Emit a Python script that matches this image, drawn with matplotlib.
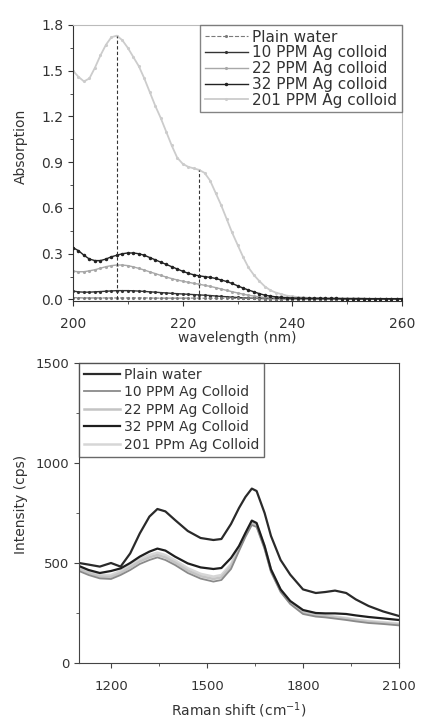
import matplotlib
matplotlib.use("Agg")
import matplotlib.pyplot as plt
from matplotlib.ticker import MultipleLocator

plt.rcParams['font.family'] = ['DejaVu Sans']

# ---------------- UV-Vis absorption data ----------------
wl = list(range(200, 261))
abs_201 = [1.50, 1.46, 1.43, 1.45, 1.52, 1.60, 1.67, 1.72, 1.73, 1.70,
           1.65, 1.59, 1.53, 1.45, 1.36, 1.27, 1.19, 1.10, 1.01, 0.93,
           0.89, 0.87, 0.86, 0.85, 0.83, 0.78, 0.70, 0.62, 0.53, 0.44,
           0.36, 0.28, 0.21, 0.16, 0.12, 0.085, 0.06, 0.045, 0.035, 0.025,
           0.02, 0.016, 0.013, 0.011, 0.010, 0.009, 0.009, 0.008, 0.008, 0.008,
           0.007, 0.007, 0.007, 0.006, 0.006, 0.006, 0.006, 0.005, 0.005, 0.005, 0.005]
abs_32 = [0.34, 0.32, 0.29, 0.265, 0.255, 0.255, 0.265, 0.28, 0.29, 0.30,
          0.305, 0.305, 0.30, 0.29, 0.275, 0.26, 0.245, 0.23, 0.215, 0.20,
          0.185, 0.172, 0.162, 0.155, 0.150, 0.145, 0.138, 0.128, 0.118, 0.105,
          0.09, 0.075, 0.062, 0.05, 0.038, 0.028, 0.022, 0.017, 0.014, 0.012,
          0.010, 0.009, 0.009, 0.008, 0.008, 0.008, 0.007, 0.007, 0.007, 0.006,
          0.006, 0.006, 0.006, 0.006, 0.005, 0.005, 0.005, 0.005, 0.005, 0.005, 0.005]
abs_22 = [0.185, 0.182, 0.182, 0.188, 0.195, 0.205, 0.215, 0.222, 0.226, 0.226,
          0.222, 0.214, 0.204, 0.193, 0.181, 0.17, 0.158, 0.147, 0.137, 0.128,
          0.12, 0.113, 0.106, 0.10, 0.093, 0.086, 0.078, 0.069, 0.06, 0.051,
          0.043, 0.035, 0.028, 0.022, 0.017, 0.013, 0.010, 0.008, 0.007, 0.006,
          0.006, 0.005, 0.005, 0.005, 0.005, 0.005, 0.004, 0.004, 0.004, 0.004,
          0.004, 0.004, 0.004, 0.004, 0.004, 0.004, 0.004, 0.004, 0.004, 0.004, 0.004]
abs_10 = [0.055, 0.050, 0.048, 0.048, 0.050, 0.052, 0.054, 0.056, 0.058, 0.058,
          0.058, 0.057, 0.055, 0.053, 0.050, 0.048, 0.045, 0.043, 0.040, 0.038,
          0.036, 0.034, 0.032, 0.030, 0.028, 0.026, 0.023, 0.020, 0.018, 0.015,
          0.013, 0.011, 0.009, 0.008, 0.007, 0.006, 0.006, 0.006, 0.005, 0.005,
          0.005, 0.005, 0.005, 0.005, 0.004, 0.004, 0.004, 0.004, 0.004, 0.004,
          0.004, 0.004, 0.003, 0.003, 0.003, 0.003, 0.003, 0.003, 0.003, 0.003, 0.003]
abs_water = [0.012, 0.011, 0.010, 0.010, 0.010, 0.010, 0.010, 0.010, 0.010, 0.010,
             0.010, 0.010, 0.010, 0.010, 0.010, 0.009, 0.009, 0.009, 0.009, 0.009,
             0.009, 0.009, 0.009, 0.009, 0.008, 0.008, 0.008, 0.008, 0.008, 0.008,
             0.007, 0.007, 0.007, 0.007, 0.006, 0.006, 0.006, 0.006, 0.006, 0.005,
             0.005, 0.005, 0.005, 0.005, 0.005, 0.005, 0.004, 0.004, 0.004, 0.004,
             0.004, 0.004, 0.004, 0.004, 0.003, 0.003, 0.003, 0.003, 0.003, 0.003, 0.003]
peak_wl = [208, 223]
peak_abs = [1.73, 0.85]

uv_labels = ["Plain water", "10 PPM Ag colloid", "22 PPM Ag colloid",
             "32 PPM Ag colloid", "201 PPM Ag colloid"]

# ---------------- Raman data ----------------
shift = [1100, 1130, 1165, 1200, 1230, 1260, 1290, 1320, 1345, 1370, 1400,
         1440, 1480, 1520, 1545, 1575, 1600, 1620, 1640, 1655, 1680, 1700,
         1730, 1760, 1800, 1840, 1870, 1900, 1935, 1965, 2005, 2050, 2100]
ram_water = [500, 492, 482, 500, 482, 548, 648, 732, 770, 758, 715,
             660, 625, 615, 620, 695, 775, 830, 872, 860, 750, 635,
             515, 442, 368, 350, 355, 362, 350, 318, 285, 258, 235]
ram_32 = [485, 465, 450, 460, 473, 500, 532, 557, 572, 562, 532,
          498, 478, 470, 475, 525, 585, 650, 712, 700, 585, 468,
          368, 310, 265, 250, 248, 248, 245, 238, 230, 223, 215]
ram_10 = [460, 440, 423, 420, 440, 465, 495, 515, 528, 515, 490,
          450, 422, 407, 415, 470, 560, 630, 690, 680, 570, 455,
          355, 295, 245, 232, 228, 222, 215, 208, 200, 195, 188]
ram_22 = [470, 450, 432, 430, 450, 478, 508, 528, 540, 528, 502,
          462, 434, 420, 428, 482, 570, 640, 700, 690, 578, 462,
          362, 302, 252, 238, 234, 228, 221, 214, 206, 200, 193]
ram_201 = [478, 458, 440, 440, 460, 488, 520, 540, 552, 540, 514,
           474, 446, 432, 440, 494, 578, 645, 705, 694, 582, 466,
           366, 306, 256, 242, 238, 232, 225, 218, 210, 204, 197]
ram_labels = ["Plain water", "10 PPM Ag Colloid", "22 PPM Ag Colloid",
              "32 PPM Ag Colloid", "201 PPm Ag Colloid"]

# ---------------- Figure ----------------
fig = plt.figure(figsize=(4.23, 7.23), dpi=100)
txt = '#333333'

ax1 = fig.add_axes([73/423, 1-301/723, 329/423, 276/723])
uv_series = [abs_water, abs_10, abs_22, abs_32, abs_201]
uv_colors = ['#7a7a7a', '#333333', '#a8a8a8', '#222222', '#cccccc']
uv_ls = ['--', '-', '-', '-', '-']
uv_lw = [0.8, 1.0, 1.0, 1.0, 1.3]
uv_ms = [2.5, 2.5, 2.5, 3.0, 2.5]
order = [4, 2, 1, 0, 3]
for i in order:
    ax1.plot(wl, uv_series[i], color=uv_colors[i], linestyle=uv_ls[i],
             lw=uv_lw[i], marker='.', ms=uv_ms[i], label=uv_labels[i], zorder=2 + (i == 3))
ax1.vlines(peak_wl, 0, peak_abs, colors='#333333', linestyles=(0, (3, 2)), lw=0.8, zorder=4)
ax1.set_xlim(200, 260)
ax1.set_ylim(-0.01, 1.8)
ax1.xaxis.set_major_locator(MultipleLocator(20))
ax1.xaxis.set_minor_locator(MultipleLocator(10))
ax1.yaxis.set_major_locator(MultipleLocator(0.3))
ax1.yaxis.set_minor_locator(MultipleLocator(0.15))
ax1.yaxis.set_major_formatter(matplotlib.ticker.FormatStrFormatter('%.1f'))
ax1.set_xlabel("wavelength (nm)", fontsize=10, color=txt)
ax1.set_ylabel("Absorption", fontsize=10, color=txt)
ax1.xaxis.set_label_coords(0.5, -0.11)
ax1.yaxis.set_label_coords(-0.138, 0.56)
h, l = ax1.get_legend_handles_labels()
hl = dict(zip(l, h))
leg1 = ax1.legend([hl[k] for k in uv_labels], uv_labels, loc='upper right',
                  borderaxespad=0, fontsize=11, frameon=True, fancybox=False,
                  edgecolor='#666666', labelspacing=0.05, handlelength=2.8,
                  handletextpad=0.3, borderpad=0.3)
for t in leg1.get_texts():
    t.set_color(txt)
for s in ['left', 'bottom']:
    ax1.spines[s].set_color('#333333')
for s in ['top', 'right']:
    ax1.spines[s].set_color('#bbbbbb')
ax1.tick_params(axis='both', which='both', direction='out', colors='#333333', labelsize=10, labelcolor=txt)
ax1.tick_params(axis='x', which='major', pad=8)
ax1.tick_params(which='major', length=3.5)
ax1.tick_params(which='minor', length=2)

ax2 = fig.add_axes([79/423, 1-663/723, 320/423, 300/723])
ram_series = [ram_water, ram_10, ram_22, ram_32, ram_201]
ram_colors = ['#2a2a2a', '#8a8a8a', '#c4c4c4', '#1e1e1e', '#d6d6d6']
ram_lw = [1.6, 1.3, 1.8, 1.6, 1.8]
for i in [4, 2, 1, 0, 3]:
    ax2.plot(shift, ram_series[i], color=ram_colors[i], lw=ram_lw[i], label=ram_labels[i])
ax2.set_xlim(1100, 2100)
ax2.set_ylim(0, 1500)
ax2.xaxis.set_minor_locator(MultipleLocator(150))
ax2.set_xticks([1200, 1500, 1800, 2100])
ax2.yaxis.set_major_locator(MultipleLocator(500))
ax2.yaxis.set_minor_locator(MultipleLocator(250))
ax2.set_xlabel("Raman shift (cm$^{-1}$)", fontsize=10, color=txt)
ax2.set_ylabel("Intensity (cps)", fontsize=10, color=txt)
ax2.xaxis.set_label_coords(0.5, -0.125)
ax2.yaxis.set_label_coords(-0.16, 0.53)
h, l = ax2.get_legend_handles_labels()
hl = dict(zip(l, h))
leg2 = ax2.legend([hl[k] for k in ram_labels], ram_labels, loc='upper left',
                  borderaxespad=0, fontsize=10, frameon=True, fancybox=False,
                  edgecolor='#444444', labelspacing=0.25, handlelength=2.6,
                  handletextpad=0.3, borderpad=0.35)
for t in leg2.get_texts():
    t.set_color(txt)
for s in ax2.spines.values():
    s.set_color('#444444')
ax2.tick_params(axis='both', which='both', direction='out', colors='#444444', labelsize=9.5, labelcolor=txt)
ax2.tick_params(axis='x', which='major', pad=9)
ax2.tick_params(which='major', length=3.5)
ax2.tick_params(which='minor', length=2)

fig.savefig("out.png", dpi=100)
